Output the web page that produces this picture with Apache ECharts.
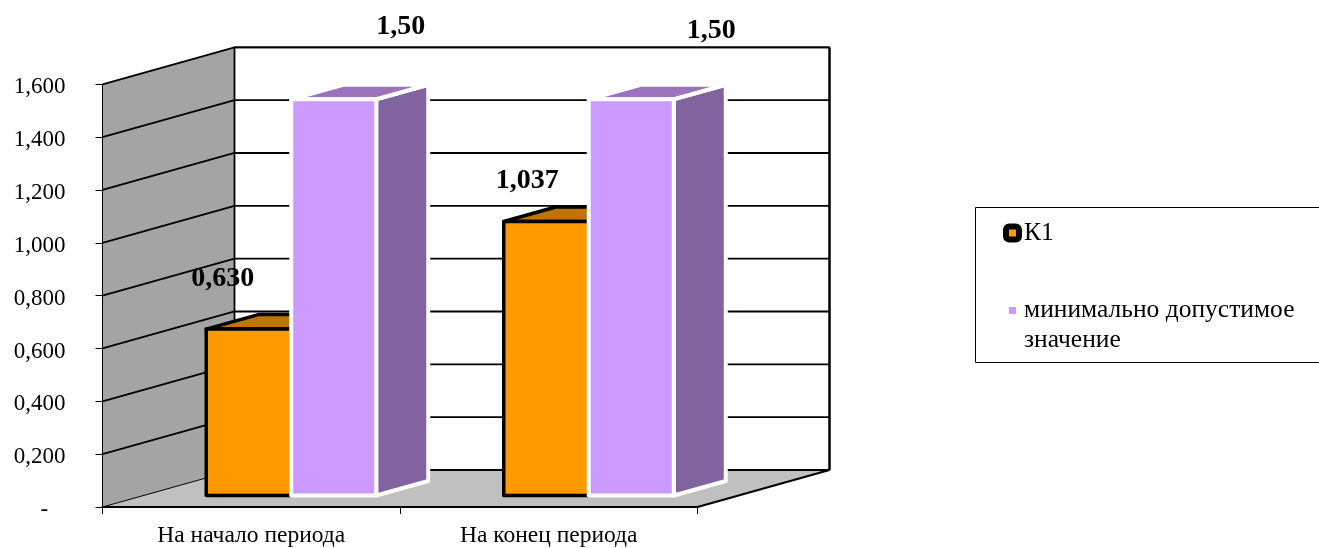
<!DOCTYPE html>
<html><head><meta charset="utf-8">
<style>html,body{margin:0;padding:0;background:#fff}#c{width:1319px;height:548px}</style>
<script src="https://cdn.jsdelivr.net/npm/echarts@6/dist/echarts.min.js"></script>
</head><body><div id="c"></div>
<script>
const categories = ['На начало периода', 'На конец периода'];
const seriesK1Name = 'К1';
const seriesMinName = 'минимально допустимое значение';
const k1Values = [0.630, 1.037];
const minValues = [1.50, 1.50];
const k1Labels = ['0,630', '1,037'];
const minLabels = ['1,50', '1,50'];
const gridValues = [0, 0.2, 0.4, 0.6, 0.8, 1.0, 1.2, 1.4, 1.6];

// styling / projection (pixels)
const FONT = '"Liberation Serif", "Times New Roman", serif';
const ROOM = {dx: 132, dy: -37};      // depth of the room
const FRONT = {dx: 40, dy: -11.5};    // where the bars' front faces stand
const BAR = {w: 85, dx: 52, dy: -14.5}; // bar width and depth
const k1LabelOffset = [[-26, -50.5], [-19, -41]];
const minLabelOffset = [[67, -72.5], [80, -68.5]];

const chart = echarts.init(document.getElementById('c'), null, {renderer: 'canvas'});

function poly(points, style, z2) {
  return {type: 'polygon', shape: {points}, style, z2: z2 || 0};
}
function roomBack(params, api) {
  const s = params.coordSys;
  const x0 = s.x, x1 = s.x + s.width;
  const y0 = api.coord([0, 0])[1], yTop = api.coord([0, 1.6])[1];
  const p = (x, y) => [x + ROOM.dx, y + ROOM.dy];
  return {type: 'group', children: [
    poly([[x0, y0], p(x0, y0), p(x1, y0), [x1, y0]], {fill: '#c0c0c0', stroke: null}),
    poly([[x0, y0], [x0, yTop], p(x0, yTop), p(x0, y0)], {fill: '#a4a4a4', stroke: null}),
    {type: 'polyline', shape: {points: [p(x0, y0), p(x0, yTop), p(x1, yTop)]}, style: {stroke: '#000', lineWidth: 1.8, fill: null}},
    {type: 'line', shape: {x1: x1 + ROOM.dx, y1: yTop + ROOM.dy, x2: x1 + ROOM.dx, y2: y0 + ROOM.dy}, style: {stroke: '#000', lineWidth: 2.5}},
    {type: 'line', shape: {x1: x0, y1: yTop, x2: x0, y2: y0}, style: {stroke: '#000', lineWidth: 1}},
    {type: 'line', shape: {x1: x1, y1: y0, x2: x1 + ROOM.dx, y2: y0 + ROOM.dy}, style: {stroke: '#000', lineWidth: 2}}
  ]};
}
function gridLine(params, api) {
  const s = params.coordSys;
  const y = api.coord([0, api.value(0)])[1];
  const isFloor = api.value(0) === 0;
  const bx = s.x + ROOM.dx, by = y + ROOM.dy;
  return {type: 'group', children: [
    {type: 'line', shape: {x1: s.x, y1: y, x2: bx, y2: by}, style: {stroke: '#000', lineWidth: isFloor ? 1 : 1.8}},
    {type: 'line', shape: {x1: bx, y1: by, x2: s.x + s.width + ROOM.dx, y2: by}, style: {stroke: '#000', lineWidth: 1.8}}
  ]};
}
function barRenderer(cfg) {
  return function (params, api) {
    const idx = api.value(0), val = api.value(1);
    const c = api.coord([idx, val]), b = api.coord([idx, 0]);
    const left = c[0] + FRONT.dx + cfg.side * BAR.w;
    const right = left + BAR.w;
    const top = c[1] + FRONT.dy, bot = b[1] + FRONT.dy;
    const d = [BAR.dx, BAR.dy];
    const st = col => ({fill: col, stroke: cfg.stroke, lineWidth: cfg.lw, lineJoin: 'round'});
    const off = cfg.offsets[params.dataIndex];
    return {type: 'group', children: [
      poly([[right, top], [right + d[0], top + d[1]], [right + d[0], bot + d[1]], [right, bot]], st(cfg.side_), 1),
      poly([[left, top], [left + d[0], top + d[1]], [right + d[0], top + d[1]], [right, top]], st(cfg.top), 1),
      {type: 'rect', shape: {x: left, y: top, width: BAR.w, height: bot - top}, style: st(cfg.front), z2: 2},
      {type: 'text', z2: 20, style: {
        text: cfg.labels[params.dataIndex],
        x: (left + right) / 2 + off[0], y: top + off[1],
        align: 'center', verticalAlign: 'middle',
        font: 'bold 28px ' + FONT, fill: '#000'
      }}
    ]};
  };
}
const noTip = {silent: true, clip: false, animation: false, tooltip: {show: false}};

const option = {
  backgroundColor: '#fff',
  animation: false,
  textStyle: {fontFamily: FONT},
  grid: {left: 102.5, top: 84.3, width: 595, height: 423, containLabel: false},
  xAxis: {
    type: 'category', data: categories, z: 5,
    axisLine: {lineStyle: {color: '#000', width: 2}},
    axisTick: {show: true, length: 7, lineStyle: {color: '#000', width: 1}},
    axisLabel: {color: '#000', fontFamily: FONT, fontSize: 23.5, margin: 17},
    splitLine: {show: false}
  },
  yAxis: {
    type: 'value', min: 0, max: 1.6, interval: 0.2, z: 5,
    axisLine: {show: true, lineStyle: {color: '#000', width: 1}},
    axisTick: {show: true, length: 7, lineStyle: {color: '#000', width: 1}},
    axisLabel: {
      color: '#000', fontFamily: FONT, fontSize: 23, margin: 37, verticalAlign: 'top', lineHeight: 6,
      formatter: v => Math.abs(v) < 1e-9 ? '-\u00A0\u00A0\u00A0' : v.toFixed(3).replace('.', ',')
    },
    splitLine: {show: false}
  },
  legend: [
    {
      data: [{name: seriesK1Name, icon: 'roundRect', itemStyle: {color: '#ff9900', borderColor: '#000', borderWidth: 6}}],
      left: 1003, top: 220, orient: 'vertical', padding: 0, itemWidth: 13, itemHeight: 13, selectedMode: false,
      textStyle: {fontFamily: FONT, fontSize: 25.5, color: '#000', lineHeight: 26}
    },
    {
      data: [{name: seriesMinName, icon: 'rect', itemStyle: {color: '#cc99ff', borderColor: '#fff', borderWidth: 6}}],
      left: 1003, top: 265.5, orient: 'vertical', padding: 0, itemWidth: 13, itemHeight: 13, selectedMode: false,
      formatter: n => '\u00A0\n' + n.replace('допустимое ', 'допустимое\n'),
      textStyle: {fontFamily: FONT, fontSize: 25.5, color: '#000', lineHeight: 30}
    }
  ],
  graphic: [{
    type: 'rect', z: -1, silent: true,
    shape: {x: 975.5, y: 207.5, width: 400, height: 155},
    style: {fill: '#fff', stroke: '#000', lineWidth: 1}
  }],
  series: [
    Object.assign({type: 'custom', name: 'room', renderItem: roomBack, data: [[0]], z: 1}, noTip),
    Object.assign({type: 'custom', name: 'grid', renderItem: gridLine, data: gridValues.map(v => [v]), z: 1.5, encode: {y: 0}}, noTip),
    Object.assign({type: 'custom', name: seriesK1Name, z: 2,
      renderItem: barRenderer({side: -1, front: '#ff9900', top: '#bf7300', side_: '#bf7300', stroke: '#000', lw: 3.5, labels: k1Labels, offsets: k1LabelOffset}),
      data: k1Values.map((v, i) => [i, v]), encode: {x: 0, y: 1},
      itemStyle: {color: '#ff9900'}}, noTip),
    Object.assign({type: 'custom', name: seriesMinName, z: 3,
      renderItem: barRenderer({side: 0, front: '#cc99ff', top: '#9b72bb', side_: '#8163a0', stroke: '#fff', lw: 4, labels: minLabels, offsets: minLabelOffset}),
      data: minValues.map((v, i) => [i, v]), encode: {x: 0, y: 1},
      itemStyle: {color: '#cc99ff'}}, noTip)
  ]
};
chart.setOption(option);
</script></body></html>
